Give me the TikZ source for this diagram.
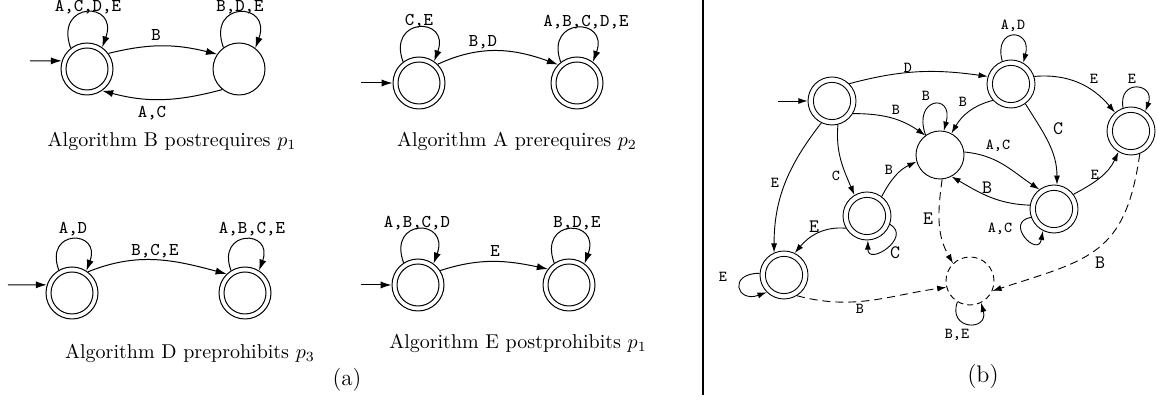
\documentclass[tikz,border=0pt]{standalone}
\usepackage{fontspec}
\usetikzlibrary{arrows.meta}
\begin{document}
\begin{tikzpicture}[x=0.5pt,y=0.5pt,
  st/.style={circle,draw,line width=0.5pt,minimum size=26pt,inner sep=0pt},
  acc/.style={st,path picture={\draw[line width=0.5pt] (path picture bounding box.center) circle[radius=10.5pt];}},
  stb/.style={circle,draw,line width=0.45pt,minimum size=24pt,inner sep=0pt},
  accb/.style={stb,path picture={\draw[line width=0.45pt] (path picture bounding box.center) circle[radius=9.3pt];}},
  sinkb/.style={stb,dash pattern=on 3pt off 2pt},
  ea/.style={-{Latex[length=5.5pt,width=3.6pt]},line width=0.5pt},
  eb/.style={-{Latex[length=4.6pt,width=3pt]},line width=0.45pt},
  dsh/.style={dash pattern=on 4pt off 2.5pt},
  la/.style={font=\fontsize{9}{10}\selectfont\ttfamily,inner sep=0pt},
  lb/.style={font=\fontsize{7.6}{8}\selectfont\ttfamily,inner sep=0pt},
  lbb/.style={font=\fontsize{9.5}{10}\selectfont\ttfamily,inner sep=0pt},
  captxt/.style={font=\normalsize,inner sep=0pt},
]
\useasboundingbox (0,0) rectangle (1157,400);

% ---------- panel (a): B postrequires p1
\node[acc] (aq0) at (87,331) {};
\node[st] (aq1) at (239,331) {};
\coordinate (ai0) at (30,339);
\draw[ea] (ai0) -- (aq0.162);
\draw[ea] (aq0.128) .. controls +(110:25pt) and +(70:25pt) .. (aq0.55) node[la] at (88,393) {A,C,D,E};
\draw[ea] (aq1.126) .. controls +(110:25pt) and +(70:25pt) .. (aq1.52) node[la] at (240,393) {B,D,E};
\draw[ea] (aq0.36) to[out=14,in=166] (aq1.146) node[la] at (156,365) {B};
\draw[ea] (aq1.231) to[out=195,in=345] (aq0.305) node[la] at (152,287) {A,C};
\node[captxt] (cap1) at (172,259) {Algorithm B postrequires $p_1$};

% ---------- A prerequires p2
\node[acc] (bq0) at (419,317) {};
\node[acc] (bq1) at (577,317) {};
\coordinate (bi0) at (361,317);
\draw[ea] (bi0) -- (bq0);
\draw[ea] (bq0.127) .. controls +(110:24pt) and +(70:24pt) .. (bq0.55) node[la] at (419,379) {C,E};
\draw[ea] (bq1.128) .. controls +(110:24pt) and +(70:24pt) .. (bq1.53) node[la] at (586,378) {A,B,C,D,E};
\draw[ea] (bq0.45) to[out=25,in=160] (bq1.136) node[la] at (483,358) {B,D};
\node[captxt] (cap2) at (517,259) {Algorithm A prerequires $p_2$};

% ---------- D preprohibits p3
\node[acc] (cq0) at (72,107) {};
\node[acc] (cq1) at (245,107) {};
\coordinate (ci0) at (8,115);
\draw[ea] (ci0) -- (cq0.162);
\draw[ea] (cq0.120) .. controls +(110:22pt) and +(70:22pt) .. (cq0.57) node[la] at (73,171) {A,D};
\draw[ea] (cq1.122) .. controls +(110:22pt) and +(70:22pt) .. (cq1.58) node[la] at (252,171) {A,B,C,E};
\draw[ea] (cq0.53) to[out=22,in=165] (cq1.134) node[la] at (155,149) {B,C,E};
\node[captxt] (cap3) at (190,47) {Algorithm D preprohibits $p_3$};

% ---------- E postprohibits p1
\node[acc] (dq0) at (418,115) {};
\node[acc] (dq1) at (569,115) {};
\coordinate (di0) at (361,115);
\draw[ea] (di0) -- (dq0);
\draw[ea] (dq0.123) .. controls +(110:24pt) and +(70:24pt) .. (dq0.54) node[la] at (417,177) {A,B,C,D};
\draw[ea] (dq1.124) .. controls +(110:24pt) and +(70:24pt) .. (dq1.54) node[la] at (577,177) {B,D,E};
\draw[ea] (dq0.33) to[out=18,in=168] (dq1.143) node[la] at (495,149) {E};
\node[captxt] (cap4) at (518,57) {Algorithm E postprohibits $p_1$};

\node[font=\fontsize{11.5}{13}\selectfont,inner sep=0pt] (la) at (347,20) {(a)};

% ---------- divider
\coordinate (dv1) at (703,400);
\coordinate (dv2) at (703,5);
\draw[line width=1pt] (dv1) -- (dv2);

% ---------- panel (b)
\node[accb] (S0) at (832,299) {};
\node[accb] (S1) at (1011,316) {};
\node[accb] (S2) at (1131,269) {};
\node[stb]  (C)  at (940,245) {};
\node[accb] (S3) at (1054,191) {};
\node[accb] (S4) at (867,184) {};
\node[accb] (S5) at (784,125) {};
\node[sinkb] (D) at (970,119) {};
\coordinate (ib) at (778,299);
\draw[eb] (ib) -- (S0);

\draw[eb] (S0.45) to[out=15,in=172] (S1.162) node[lb] at (908,332) {D};
\draw[eb] (S0.329) to[out=0,in=145] (C.127) node[lb] at (896,290) {B};
\draw[eb] (S1.222) to[out=195,in=60] (C.62) node[lb] at (963,298) {B};
\draw[eb] (C.126) .. controls +(110:20pt) and +(75:20pt) .. (C.81) node[lb] at (926,304) {B};
\draw[eb] (S1.18) to[out=5,in=130] (S2.131) node[lb] at (1094,321) {E};
\draw[eb] (S2.109) .. controls +(100:15pt) and +(70:15pt) .. (S2.54) node[lb] at (1132,321) {E};
\draw[eb] (S1.306) to[out=302,in=90] (S3.83) node[lbb] at (1058,271) {C};
\draw[eb] (S1.111) .. controls +(105:18pt) and +(75:18pt) .. (S1.60) node[lb] at (1013,374) {A,D};
\draw[eb] (C.7) to[out=-5,in=146] (S3.127) node[lb] at (998,254) {A,C};
\draw[eb] (S3.171) to[out=178,in=-30] (C.298) node[lbb] at (987,212) {B};
\draw[eb] (S3.37) to[out=28,in=245] (S2.239) node[lb] at (1095,225) {E};
\draw[eb] (S3.200) .. controls +(190:14pt) and +(260:14pt) .. (S3.243) node[lb] at (1000,171) {A,C};
\draw[eb] (S0.284) to[out=265,in=113] (S4.121) node[lb] at (836,224) {C};
\draw[eb] (S0.244) to[out=232,in=90] (S5.114) node[lb] at (775,217) {E};
\draw[eb] (S4.53) to[out=62,in=205] (C.196) node[lb] at (889,230) {B};
\draw[eb] (S4.210) to[out=175,in=50] (S5.64) node[lbb] at (814,173) {E};
\draw[eb] (S4.340) .. controls +(330:13pt) and +(270:13pt) .. (S4.272) node[lbb] at (895,147) {C};
\draw[eb] (S5.176) .. controls +(180:16pt) and +(200:16pt) .. (S5.225) node[lb] at (723,123) {E};
\draw[eb,dsh] (S5.302) to[out=-15,in=188] (D.195) node[lb] at (860,91) {B};
\draw[eb,dsh] (C.275) to[out=262,in=120] (D.134) node[lbb] at (928,181) {E};
\draw[eb,dsh] (S2.291) to[out=262,in=18,looseness=1.3] (D.336) node[lbb] at (1100,137) {B};
\draw[eb] (D.239) .. controls +(250:15pt) and +(285:15pt) .. (D.297) node[lb] at (957,65) {B,E};

\node[font=\fontsize{12}{14}\selectfont,inner sep=0pt] (lbl) at (983,23) {(b)};
\end{tikzpicture}
\end{document}
